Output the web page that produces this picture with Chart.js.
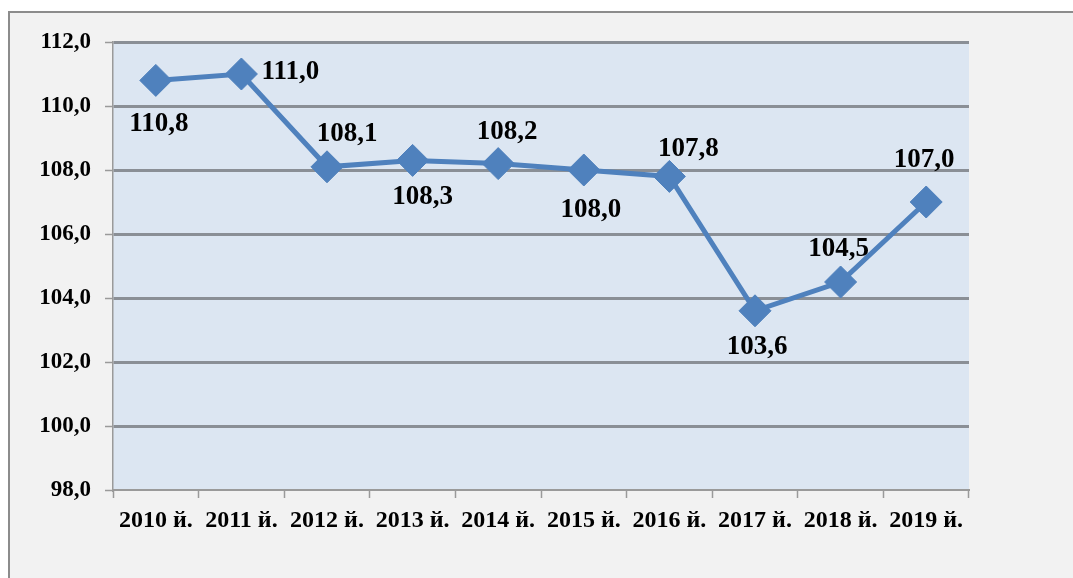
<!DOCTYPE html>
<html lang="uz">
<head>
    <meta charset="UTF-8">
    <title>Chart</title>
    <style>
        body { margin: 0; padding: 0; background-color: #ffffff; overflow: hidden; }
        .frame {
            position: absolute; left: 8px; top: 11px;
            width: 1063px; height: 565px;
            border-left: 2px solid #8c8c8c; border-top: 2px solid #8c8c8c;
            background-color: #f2f2f2;
        }
        .frame canvas { display: block; }
    </style>
    <script src="https://cdn.jsdelivr.net/npm/chart.js"></script>
</head>
<body>

<div class="frame">
    <canvas id="myChart" width="1063" height="565"></canvas>
</div>

<script>
    // data
    const years = ['2010 й.', '2011 й.', '2012 й.', '2013 й.', '2014 й.', '2015 й.', '2016 й.', '2017 й.', '2018 й.', '2019 й.'];
    const values = [110.8, 111.0, 108.1, 108.3, 108.2, 108.0, 107.8, 103.6, 104.5, 107.0];
    const yTicks = [98, 100, 102, 104, 106, 108, 110, 112];

    // where each value label sits relative to its point (centre of the digits)
    const labelDx = [3, 49, 20, 10, 9, 7, 19, 2, -2, -2];
    const labelDy = [42, -4, -35, 35, -34, 38, -29, 34, -35, -44];

    const serif = '"Liberation Serif", "Times New Roman", serif';
    const fmt = v => v.toFixed(1).replace('.', ',');

    // light blue plot area
    const plotBackground = {
        id: 'plotBackground',
        beforeDraw(chart) {
            const { ctx, chartArea: a } = chart;
            ctx.save();
            ctx.fillStyle = '#dce6f2';
            ctx.fillRect(a.left, a.top, a.right - a.left, a.bottom - a.top);
            ctx.restore();
        }
    };

    // value labels next to the markers
    const valueLabels = {
        id: 'valueLabels',
        afterDatasetsDraw(chart) {
            const ctx = chart.ctx;
            const meta = chart.getDatasetMeta(0);
            const size = 27;
            ctx.save();
            ctx.font = 'bold ' + size + 'px ' + serif;
            ctx.fillStyle = '#000000';
            ctx.textAlign = 'center';
            ctx.textBaseline = 'alphabetic';
            meta.data.forEach((pt, i) => {
                ctx.fillText(fmt(values[i]), pt.x + labelDx[i], pt.y + labelDy[i] + size * 0.33);
            });
            ctx.restore();
        }
    };

    const ctx = document.getElementById('myChart').getContext('2d');
    new Chart(ctx, {
        type: 'line',
        data: {
            labels: years,
            datasets: [{
                data: values,
                borderColor: '#4f81bd',
                backgroundColor: '#4f81bd',
                borderWidth: 5,
                pointStyle: 'rectRot',
                pointRadius: 16,
                pointBorderWidth: 1,
                pointBackgroundColor: '#4f81bd',
                pointBorderColor: '#4f81bd',
                tension: 0
            }]
        },
        options: {
            responsive: false,
            animation: false,
            layout: { padding: { left: 0, top: 29, right: 104, bottom: 0 } },
            plugins: { legend: { display: false }, tooltip: { enabled: false } },
            scales: {
                x: {
                    offset: true,
                    grid: {
                        display: true,
                        drawOnChartArea: false,
                        offset: true,
                        tickLength: 8,
                        tickColor: '#9a9a9a',
                        tickWidth: 1.5
                    },
                    border: { color: '#9a9a9a', width: 2 },
                    ticks: {
                        color: '#000000',
                        padding: 8,
                        maxRotation: 0,
                        font: { family: serif, size: 24, weight: 'bold' }
                    },
                    afterFit(scale) { scale.height = 88; }
                },
                y: {
                    min: 98,
                    max: 112,
                    afterBuildTicks(scale) { scale.ticks = yTicks.map(v => ({ value: v })); },
                    grid: {
                        color: c => c.index === 0 ? 'rgba(0,0,0,0)' : '#8a8f96',
                        lineWidth: 3,
                        tickLength: 8,
                        tickColor: '#9a9a9a',
                        tickWidth: 1.5
                    },
                    border: { color: '#9a9a9a', width: 1.5 },
                    ticks: {
                        color: '#000000',
                        padding: 14,
                        callback: v => fmt(v),
                        font: { family: serif, size: 23, weight: 'bold' }
                    },
                    afterFit(scale) { scale.width = 103; }
                }
            }
        },
        plugins: [plotBackground, valueLabels]
    });
</script>

</body>
</html>
